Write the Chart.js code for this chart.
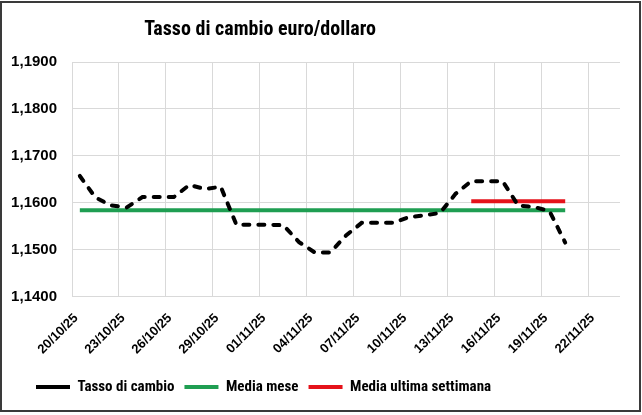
<!DOCTYPE html>
<html><head><meta charset="utf-8">
<script src="https://cdn.jsdelivr.net/npm/chart.js@4"></script>
<style>
html,body{margin:0;padding:0;background:#fff;}
#wrap{position:absolute;left:0;top:1px;width:641px;height:411px;border:2px solid #3a3a3a;box-sizing:border-box;background:#fff;}
#c{display:block;}
</style></head><body>
<div id="wrap"><canvas id="c" width="637" height="407"></canvas></div>
<script>
// ---- data ----
const dates = ['20/10/25','21/10/25','22/10/25','23/10/25','24/10/25','25/10/25','26/10/25','27/10/25','28/10/25','29/10/25',
  '30/10/25','31/10/25','01/11/25','02/11/25','03/11/25','04/11/25','05/11/25','06/11/25','07/11/25','08/11/25',
  '09/11/25','10/11/25','11/11/25','12/11/25','13/11/25','14/11/25','15/11/25','16/11/25','17/11/25','18/11/25',
  '19/11/25','20/11/25'];
const tasso = [1.1657,1.1611,1.1594,1.1590,1.1612,1.1612,1.1612,1.1638,1.1629,1.1634,
  1.1553,1.1553,1.1553,1.1552,1.1516,1.1494,1.1494,1.1530,1.1557,1.1557,
  1.1557,1.1569,1.1573,1.1578,1.1619,1.1646,1.1646,1.1646,1.1594,1.1591,
  1.1582,1.1515];
const mediaMese = 1.1584;
const mediaUltimaSettimana = 1.1603;
const inizioSettimana = '14/11/25';
const xTickLabels = ['20/10/25','23/10/25','26/10/25','29/10/25','01/11/25','04/11/25','07/11/25','10/11/25','13/11/25','16/11/25','19/11/25','22/11/25'];
const yTickValues = [1.14,1.15,1.16,1.17,1.18,1.19];
const axisDays = 35; // 20/10/25 .. 23/11/25
const tickStepDays = 3;

// ---- build series ----
const serieTasso = dates.map((d,i)=>({x:i+0.5,y:tasso[i]}));
const serieMese = dates.map((d,i)=>({x:i+0.5,y:mediaMese}));
const s0 = dates.indexOf(inizioSettimana);
const serieSett = dates.slice(s0).map((d,k)=>({x:s0+k+0.5,y:mediaUltimaSettimana}));

const narrow = "'Liberation Sans Narrow','Roboto Condensed','Arial Narrow',sans-serif";
const sans = "'Liberation Sans',Arial,sans-serif";

// title and legend in the original sit left of the canvas centre
const blockShift = {id:'blockShift', afterLayout(chart){
  const t = chart.titleBlock; if (t){ t.left = 0; t.right = 516; t.width = 516; }
  const lg = chart.legend; if (lg){ lg.left += 18; lg.right += 18; }
}};

new Chart(document.getElementById('c'), {
  type:'line',
  data:{datasets:[
    {label:'Tasso di cambio',data:serieTasso,borderColor:'#000',backgroundColor:'#000',borderWidth:4,borderDash:[6,9],borderCapStyle:'round',pointRadius:0,tension:0},
    {label:'Media mese',data:serieMese,borderColor:'#1f9e52',backgroundColor:'#1f9e52',borderWidth:4,pointRadius:0},
    {label:'Media ultima settimana',data:serieSett,borderColor:'#e5121a',backgroundColor:'#e5121a',borderWidth:4,pointRadius:0}
  ]},
  plugins:[blockShift],
  options:{
    responsive:false,animation:false,
    layout:{padding:{left:6,right:19,top:0,bottom:5.5}},
    plugins:{
      title:{display:true,text:'Tasso di cambio euro/dollaro',color:'#000',font:{family:narrow,size:20,weight:'bold',lineHeight:1.2},padding:{top:15,bottom:20}},
      legend:{position:'bottom',align:'start',labels:{usePointStyle:true,pointStyle:'line',pointStyleWidth:34,color:'#000',padding:10,font:{family:narrow,size:15,weight:'bold'}}},
      tooltip:{enabled:false}
    },
    scales:{
      x:{type:'linear',min:0,max:axisDays,
        afterBuildTicks:s=>{s.ticks=xTickLabels.map((l,k)=>({value:k*tickStepDays}));},
        afterFit:s=>{s.height=73;},
        ticks:{autoSkip:false,maxRotation:45,minRotation:45,color:'#000',padding:14,labelOffset:4,font:{family:sans,size:13,weight:'bold'},callback:(v,i)=>xTickLabels[i]},
        grid:{color:'#d9d9d9',drawTicks:false},border:{display:false}},
      y:{min:1.14,max:1.19,
        afterBuildTicks:s=>{s.ticks=yTickValues.map(v=>({value:v}));},
        afterFit:s=>{s.width=64;},
        ticks:{color:'#000',padding:15,font:{family:sans,size:15,weight:'bold'},callback:v=>v.toFixed(4).replace('.',',')},
        grid:{color:'#d9d9d9',drawTicks:false},border:{display:false}}
    }
  }
});
</script>
</body></html>
